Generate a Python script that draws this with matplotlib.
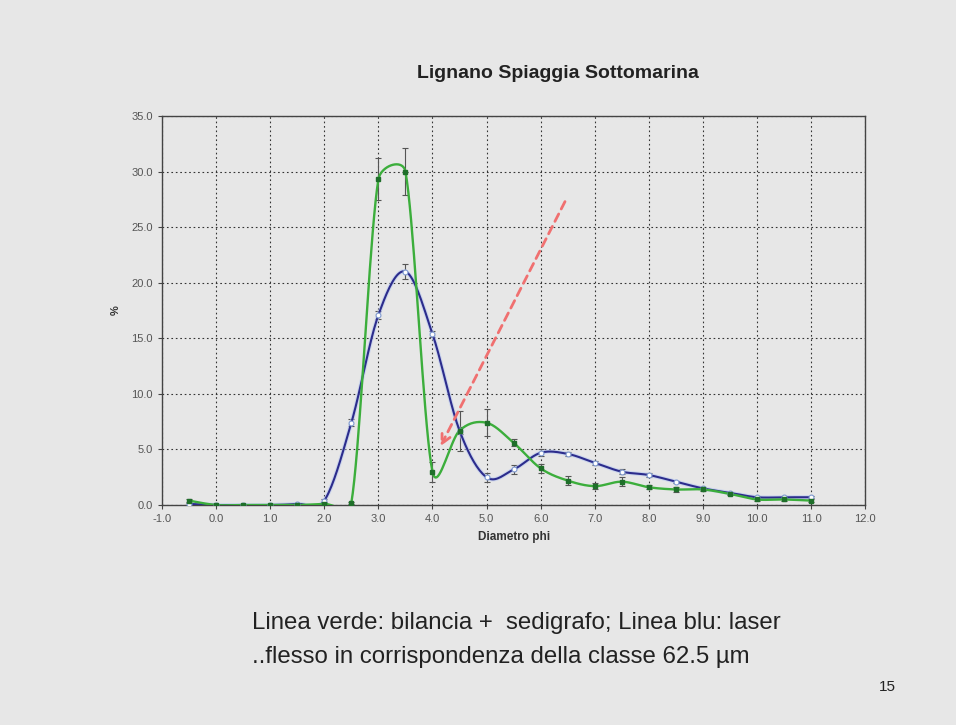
import numpy as np
import matplotlib
matplotlib.use("Agg")
import matplotlib.pyplot as plt

plt.rcParams['font.family'] = ['Liberation Sans', 'DejaVu Sans']

# data
phi = [-0.5, 0.0, 0.5, 1.0, 1.5, 2.0, 2.5, 3.0, 3.5, 4.0, 4.5, 5.0,
       5.5, 6.0, 6.5, 7.0, 7.5, 8.0, 8.5, 9.0, 9.5, 10.0, 10.5, 11.0]
green = [0.4, 0.0, 0.0, 0.0, 0.0, 0.1, 0.2, 29.3, 30.0, 3.0, 6.7, 7.4,
         5.6, 3.3, 2.2, 1.7, 2.1, 1.6, 1.4, 1.4, 1.0, 0.5, 0.5, 0.4]
green_err = [0.1, 0.0, 0.0, 0.0, 0.0, 0.1, 0.1, 1.9, 2.1, 0.9, 1.8, 1.2,
             0.3, 0.4, 0.4, 0.3, 0.4, 0.2, 0.2, 0.1, 0.1, 0.1, 0.1, 0.1]
blue = [0.1, 0.0, 0.0, 0.0, 0.1, 0.4, 7.4, 17.1, 21.0, 15.4, 6.7, 2.5,
        3.2, 4.7, 4.6, 3.8, 3.0, 2.7, 2.1, 1.5, 1.1, 0.7, 0.7, 0.7]
blue_err = [0.1, 0.0, 0.0, 0.0, 0.1, 0.1, 0.3, 0.4, 0.7, 0.3, 0.3, 0.4,
            0.4, 0.3, 0.2, 0.2, 0.2, 0.2, 0.1, 0.1, 0.1, 0.1, 0.1, 0.1]

title = 'Lignano Spiaggia Sottomarina'
note1 = 'Linea verde: bilancia +  sedigrafo; Linea blu: laser'
note2 = '..flesso in corrispondenza della classe 62.5 µm'
page = '15'

BG = '#e7e7e7'


def smooth(xs, ys, sx=54.0, sy=11.12, n=20):
    # excel-like bezier smoothing, control points clipped (pixel space)
    P = np.column_stack([np.asarray(xs) * sx, np.asarray(ys) * sy])
    out = []
    m = len(P)
    for i in range(m - 1):
        p0, p3 = P[i], P[i + 1]
        seg = np.linalg.norm(p3 - p0)
        t1 = (P[min(i + 1, m - 1)] - P[max(i - 1, 0)]) / 6.0
        t2 = (P[min(i + 2, m - 1)] - P[i]) / 6.0
        lim = 0.5 * seg
        for t in (t1, t2):
            l = np.linalg.norm(t)
            if l > lim and l > 0:
                t *= lim / l
        p1 = p0 + t1
        p2 = p3 - t2
        tt = np.linspace(0, 1, n)[:, None]
        b = ((1 - tt) ** 3) * p0 + 3 * ((1 - tt) ** 2) * tt * p1 + \
            3 * (1 - tt) * tt ** 2 * p2 + tt ** 3 * p3
        out.append(b if i == 0 else b[1:])
    b = np.vstack(out)
    return b[:, 0] / sx, b[:, 1] / sy


fig = plt.figure(figsize=(9.56, 7.25), dpi=100)
fig.patch.set_facecolor(BG)
ax = fig.add_axes([0.1695, 0.3034, 0.7355, 0.5366])
ax.set_facecolor('none')

# error bars
ax.errorbar(phi, green, yerr=green_err, fmt='none', ecolor='#555555',
            elinewidth=0.8, capsize=2.5, capthick=0.8, zorder=2)
ax.errorbar(phi, blue, yerr=blue_err, fmt='none', ecolor='#555555',
            elinewidth=0.8, capsize=2.5, capthick=0.8, zorder=2)

# smoothed lines
bx, by = smooth(phi, blue)
ax.plot(bx, by, color='#b8c8f0', lw=3.0, alpha=0.6, zorder=3)
ax.plot(bx, by, color='#2c2c8c', lw=1.5, zorder=4)
ax.plot(phi, blue, ls='none', marker='o', ms=3.5, mfc='white',
        mec='#7f9ad0', mew=0.8, zorder=5)

gx, gy = smooth(phi, green)
ax.plot(gx, gy, color='#3cae3c', lw=1.7, zorder=4)
ax.plot(phi, green, ls='none', marker='s', ms=3, mfc='#1f6f2a',
        mec='#1f6f2a', zorder=5)

# red dashed arrow
ax.annotate('', xy=(4.15, 5.3), xytext=(6.45, 27.3),
            arrowprops=dict(arrowstyle='->', color='#f07070', lw=2,
                            linestyle=(0, (3, 2)), mutation_scale=16,
                            shrinkA=0, shrinkB=0), zorder=6)

ax.set_xlim(-1, 12)
ax.set_ylim(0, 35)
ax.set_xticks(np.arange(-1, 12.1, 1))
ax.set_yticks(np.arange(0, 35.1, 5))
ax.set_xticklabels(['%.1f' % v for v in np.arange(-1, 12.1, 1)])
ax.set_yticklabels(['%.1f' % v for v in np.arange(0, 35.1, 5)])
ax.tick_params(labelsize=8, labelcolor='#555555', length=3,
               color='#444444', width=0.8)
ax.grid(True, color='#333333', ls=(0, (1.5, 2.5)), lw=0.8)
ax.set_axisbelow(True)
for s in ax.spines.values():
    s.set_color('#444444')
    s.set_linewidth(1.0)

ax.set_xlabel('Diametro phi', fontsize=8.5, fontweight='bold',
              color='#333333', labelpad=5)
ax.set_ylabel('%', fontsize=8, fontweight='bold', color='#333333',
              labelpad=8)

fig.text(0.584, 0.898, title, ha='center', va='center', fontsize=14,
         fontweight='bold', color='#222222')
fig.text(0.264, 0.141, note1, ha='left', va='center', fontsize=17.3,
         color='#222222')
fig.text(0.264, 0.094, note2, ha='left', va='center', fontsize=17.3,
         color='#222222')
fig.text(0.928, 0.053, page, ha='center', va='center', fontsize=11,
         color='#222222')

plt.savefig('out.png', dpi=100, facecolor=BG)
